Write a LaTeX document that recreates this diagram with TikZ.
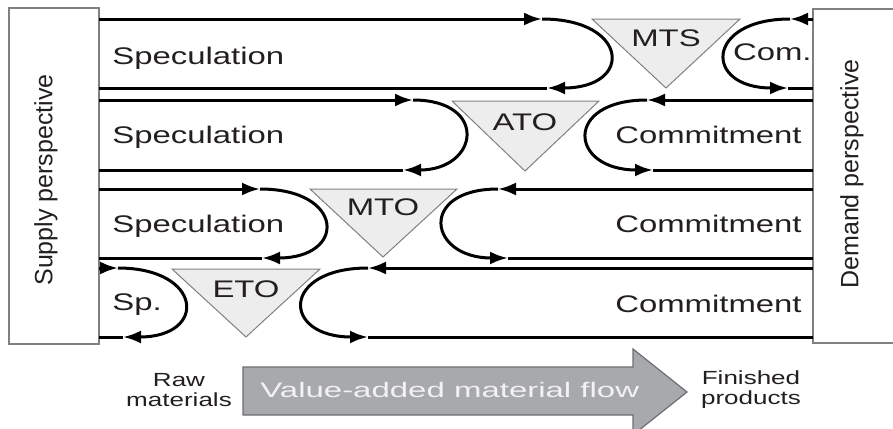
\documentclass[tikz,border=0pt]{standalone}
\usepackage{fontspec}
\setmainfont{Liberation Sans}
\newfontfamily\labelfont{Liberation Sans}[FakeStretch=1.37]
\newfontfamily\flowfont{Liberation Sans}[FakeStretch=1.57]
\usetikzlibrary{arrows.meta}
\definecolor{txt}{HTML}{231F20}
\definecolor{stockfill}{HTML}{EDEDED}
\definecolor{stockline}{HTML}{808080}
\definecolor{flowfill}{HTML}{A7A9AC}
\definecolor{flowline}{HTML}{6D6E71}
\definecolor{flowtext}{HTML}{F2F2F2}
\tikzset{
	flow/.style={line width=1.5pt},
	arr/.style={-{Latex[length=9pt,width=6.5pt]}},
	stock/.style={draw=stockline, fill=stockfill, line width=0.5pt},
	persp/.style={draw=stockline, line width=0.6pt},
	lbl/.style={font=\labelfont\fontsize{12}{14}\selectfont, text=txt, inner sep=0pt},
	sidelbl/.style={font=\fontsize{12.5}{15}\selectfont, text=txt, rotate=90, inner sep=0pt},
	endlbl/.style={font=\labelfont\fontsize{9.5}{10}\selectfont, text=txt, align=center, inner sep=0pt},
	flowlbl/.style={font=\flowfont\fontsize{10.5}{12}\selectfont, text=flowtext, inner sep=0pt}
}

\begin{document}
\begin{tikzpicture}[x=0.5pt, y=-0.5pt]
	\clip (0,0) rectangle (893,428);
		% perspectives
		\draw[persp] (9,8) rectangle (99,344);
		\draw[persp] (900,9) -- (813,9) -- (813,343) -- (900,343);
		\node[sidelbl] (supply) at (46,180) {Supply perspective};
		\node[sidelbl] (demand) at (852,174) {Demand perspective};
		% decoupling points
		\draw[stock] (592,19) -- (740,19) -- (666,88) -- cycle;
		\draw[stock] (452,101) -- (599,101) -- (525,171) -- cycle;
		\draw[stock] (310,189) -- (457,189) -- (383,257) -- cycle;
		\draw[stock] (172,269) -- (320,269) -- (246,337) -- cycle;
		\node[lbl, anchor=base] (mts) at (666,46) {MTS};
		\node[lbl, anchor=base] (ato) at (525,130) {ATO};
		\node[lbl, anchor=base] (mto) at (383,215) {MTO};
		\node[lbl, anchor=base] (eto) at (246,297) {ETO};
		% loop ends
		\coordinate (s1t) at (99,19);  \coordinate (s1b) at (99,88);
		\coordinate (s2t) at (99,100); \coordinate (s2b) at (99,170);
		\coordinate (s3t) at (99,189); \coordinate (s3b) at (99,258);
		\coordinate (s4t) at (99,268); \coordinate (s4b) at (99,337);
		\coordinate (d1t) at (813,19);  \coordinate (d1b) at (813,88);
		\coordinate (d2t) at (813,100); \coordinate (d2b) at (813,170);
		\coordinate (d3t) at (813,189); \coordinate (d3b) at (813,258);
		\coordinate (d4t) at (813,268); \coordinate (d4b) at (813,337);
		\coordinate (l1t) at (542,19);  \coordinate (l1b) at (547,88);
		\coordinate (l2t) at (413,100); \coordinate (l2b) at (403,170);
		\coordinate (l3t) at (260,189); \coordinate (l3b) at (262,258);
		\coordinate (l4t) at (118,268); \coordinate (l4b) at (123,337);
		\coordinate (r1t) at (790,19);  \coordinate (r1b) at (788,88);
		\coordinate (r2t) at (647,100); \coordinate (r2b) at (653,170);
		\coordinate (r3t) at (498,189); \coordinate (r3b) at (508,258);
		\coordinate (r4t) at (368,268); \coordinate (r4b) at (368,337);
		% speculation loops
		\draw[flow, arr] (s1t) -- (l1t);
		\draw[flow, arr] (l1t) .. controls +(87,0) and +(87,0) .. (l1b);
		\draw[flow] (l1b) -- (s1b);
		\draw[flow, arr] (s2t) -- (l2t);
		\draw[flow, arr] (l2t) .. controls +(76,0) and +(76,0) .. (l2b);
		\draw[flow] (l2b) -- (s2b);
		\draw[flow, arr] (s3t) -- (l3t);
		\draw[flow, arr] (l3t) .. controls +(85,0) and +(85,0) .. (l3b);
		\draw[flow] (l3b) -- (s3b);
		\draw[flow, arr] (s4t) -- (l4t);
		\draw[flow, arr] (l4t) .. controls +(85,0) and +(85,0) .. (l4b);
		\draw[flow] (l4b) -- (s4b);
		% commitment loops
		\draw[flow, arr] (d1t) -- (r1t);
		\draw[flow, arr] (r1t) .. controls +(-85,0) and +(-85,0) .. (r1b);
		\draw[flow] (r1b) -- (d1b);
		\draw[flow, arr] (d2t) -- (r2t);
		\draw[flow, arr] (r2t) .. controls +(-84,0) and +(-84,0) .. (r2b);
		\draw[flow] (r2b) -- (d2b);
		\draw[flow, arr] (d3t) -- (r3t);
		\draw[flow, arr] (r3t) .. controls +(-80,0) and +(-80,0) .. (r3b);
		\draw[flow] (r3b) -- (d3b);
		\draw[flow, arr] (d4t) -- (r4t);
		\draw[flow, arr] (r4t) .. controls +(-87,0) and +(-87,0) .. (r4b);
		\draw[flow] (r4b) -- (d4b);
		% row labels
		\node[lbl, anchor=base west] (spec1) at (112,64) {Speculation};
		\node[lbl, anchor=base west] (spec2) at (112,143) {Speculation};
		\node[lbl, anchor=base west] (spec3) at (112,232) {Speculation};
		\node[lbl, anchor=base west] (spec4) at (112,310) {Sp.};
		\node[lbl, anchor=base east] (com1) at (812,60) {Com.};
		\node[lbl, anchor=base east] (com2) at (802,143) {Commitment};
		\node[lbl, anchor=base east] (com3) at (802,232) {Commitment};
		\node[lbl, anchor=base east] (com4) at (802,312) {Commitment};
		% material flow
		\draw[fill=flowfill, draw=flowline, line width=0.6pt] (243,367) -- (633,367) -- (633,349) -- (687,392) -- (633,435) -- (633,415) -- (243,415) -- cycle;
		\node[flowlbl, anchor=base west] (vaf) at (260,397) {Value-added material flow};
		\node[endlbl] (raw) at (179,390) {Raw\\materials};
		\node[endlbl] (fin) at (751,390) {Finished\\products};
	\end{tikzpicture}
\end{document}
